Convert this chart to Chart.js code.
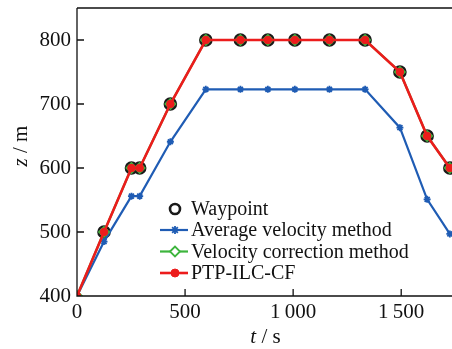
<!DOCTYPE html>
<html><head><meta charset="utf-8">
<script src="https://cdn.jsdelivr.net/npm/chart.js@4.4.0/dist/chart.umd.min.js"></script>
<style>html,body{margin:0;padding:0;background:#fff}#wrap{width:452px;height:349px}</style>
</head><body><div id="wrap"><canvas id="c" width="452" height="349"></canvas></div>
<script>
const times = [0, 125, 252, 290, 432, 596, 756, 883, 1008, 1168, 1333, 1494, 1620, 1725];
const waypointZ = [null, 500, 600, 600, 700, 800, 800, 800, 800, 800, 800, 750, 650, 600];
const avgVelocityZ = [400, 485, 556, 556, 641, 723, 723, 723, 723, 723, 723, 663, 551, 497];
const velCorrectionZ = [400, 500, 600, 600, 700, 800, 800, 800, 800, 800, 800, 750, 650, 600];
const ptpZ = [400, 500, 600, 600, 700, 800, 800, 800, 800, 800, 800, 750, 650, 600];
const xTicks = [0, 500, 1000, 1500];
const xTickLabels = ['0', '500', '1\u2009000', '1\u2009500'];
const yTicks = [400, 500, 600, 700, 800];
const labels = ['Waypoint', 'Average velocity method', 'Velocity correction method', 'PTP-ILC-CF'];

const pts = arr => times.map((t, i) => arr[i] === null ? null : {x: t, y: arr[i]}).filter(p => p);
const BLUE = '#1f5cb4', GREEN = '#3db53d', RED = '#ec1c1c', BLACK = '#1a1a1a';
const SERIF = '"Liberation Serif", "Times New Roman", serif';

const overlay = {
  id: 'overlay',
  afterDraw(chart) {
    const ctx = chart.ctx, a = chart.chartArea;
    const xs = chart.scales.x, ys = chart.scales.y;
    ctx.save();
    ctx.strokeStyle = '#111'; ctx.lineWidth = 1.3;
    ctx.beginPath();
    ctx.moveTo(a.left, a.top); ctx.lineTo(a.right, a.top);
    ctx.moveTo(a.left, a.top); ctx.lineTo(a.left, a.bottom); ctx.lineTo(a.right, a.bottom);
    xTicks.forEach(v => { const px = xs.getPixelForValue(v); ctx.moveTo(px, a.bottom); ctx.lineTo(px, a.bottom - 7); });
    yTicks.forEach(v => { const py = ys.getPixelForValue(v); ctx.moveTo(a.left, py); ctx.lineTo(a.left + 7, py); });
    ctx.stroke();
    ctx.fillStyle = '#111'; ctx.textBaseline = 'alphabetic';
    const drawMixed = (parts, x, y) => {
      let w = 0;
      parts.forEach(p => { ctx.font = p[1]; w += ctx.measureText(p[0]).width; });
      let cx = x - w / 2;
      parts.forEach(p => { ctx.font = p[1]; ctx.textAlign = 'left'; ctx.fillText(p[0], cx, y); cx += ctx.measureText(p[0]).width; });
    };
    drawMixed([['t', 'italic 21px ' + SERIF], [' / s', '21px ' + SERIF]], (a.left + a.right) / 2 + 1, 343);
    ctx.save();
    ctx.translate(27, (a.top + a.bottom) / 2 - 6);
    ctx.rotate(-Math.PI / 2);
    drawMixed([['z', 'italic 21px ' + SERIF], [' / m', '21px ' + SERIF]], 0, 0);
    ctx.restore();
    const lx0 = 160, lx1 = 188, mx = 175, tx = 191;
    const ly = [209, 230, 251.5, 273];
    ctx.font = '20px ' + SERIF; ctx.textAlign = 'left'; ctx.textBaseline = 'middle';
    chart.data.datasets.forEach((ds, i) => {
      const y = ly[i];
      if (ds.showLine !== false) {
        ctx.strokeStyle = ds.borderColor; ctx.lineWidth = ds.borderWidth;
        ctx.beginPath(); ctx.moveTo(lx0, y); ctx.lineTo(lx1, y); ctx.stroke();
      }
      ctx.fillStyle = ds.legendFill; ctx.strokeStyle = ds.pointBorderColor; ctx.lineWidth = ds.pointBorderWidth;
      ctx.beginPath();
      Chart.helpers.drawPoint(ctx, {pointStyle: ds.pointStyle, radius: ds.legendRadius, borderWidth: ds.pointBorderWidth, rotation: 0}, mx, y);
      ctx.fillStyle = '#111';
      ctx.fillText(ds.label, tx, y + 1);
    });
    ctx.restore();
  }
};

new Chart(document.getElementById('c'), {
  type: 'line',
  data: {
    datasets: [
      {label: labels[0], data: pts(waypointZ), showLine: false, pointStyle: 'circle', pointRadius: 5.5,
       pointBorderWidth: 2.6, pointBorderColor: BLACK, pointBackgroundColor: 'rgba(0,0,0,0)', borderColor: BLACK,
       borderWidth: 0, order: 3, legendRadius: 5, legendFill: 'rgba(255,255,255,1)'},
      {label: labels[1], data: pts(avgVelocityZ), borderColor: BLUE, borderWidth: 2.2, pointStyle: 'star',
       pointRadius: 3.5, pointBorderWidth: 1.8, pointBorderColor: BLUE, pointBackgroundColor: BLUE, order: 2,
       legendRadius: 4, legendFill: BLUE},
      {label: labels[2], data: pts(velCorrectionZ), borderColor: GREEN, borderWidth: 2.2, pointStyle: 'rectRot',
       pointRadius: 5, pointBorderWidth: 1.8, pointBorderColor: GREEN, pointBackgroundColor: GREEN, order: 1,
       legendRadius: 5, legendFill: '#fff'},
      {label: labels[3], data: pts(ptpZ), borderColor: RED, borderWidth: 2.6, pointStyle: 'circle',
       pointRadius: 3.8, pointBorderWidth: 1, pointBorderColor: RED, pointBackgroundColor: RED, order: 0,
       legendRadius: 4, legendFill: RED}
    ]
  },
  options: {
    responsive: false, animation: false, devicePixelRatio: 1,
    layout: {autoPadding: false, padding: {top: 8, right: 0, left: 0, bottom: 0}},
    plugins: {legend: {display: false}, tooltip: {enabled: false}},
    elements: {line: {tension: 0}},
    scales: {
      x: {type: 'linear', min: 0, max: 1735,
          afterBuildTicks: s => { s.ticks = xTicks.map(v => ({value: v})); },
          afterFit: s => { s.height = 53; s.paddingLeft = 0; s.paddingRight = 0; },
          grid: {display: false, drawTicks: false}, border: {display: false},
          ticks: {autoSkip: false, maxRotation: 0, padding: 4, color: '#111', font: {family: SERIF, size: 21},
                  callback: v => xTickLabels[xTicks.indexOf(v)]}},
      y: {type: 'linear', min: 400, max: 850,
          afterBuildTicks: s => { s.ticks = yTicks.map(v => ({value: v})); },
          afterFit: s => { s.width = 77; s.paddingTop = 0; s.paddingBottom = 0; },
          grid: {display: false, drawTicks: false}, border: {display: false},
          ticks: {autoSkip: false, padding: 6, color: '#111', font: {family: SERIF, size: 21}}}
    }
  },
  plugins: [overlay]
});
</script></body></html>
